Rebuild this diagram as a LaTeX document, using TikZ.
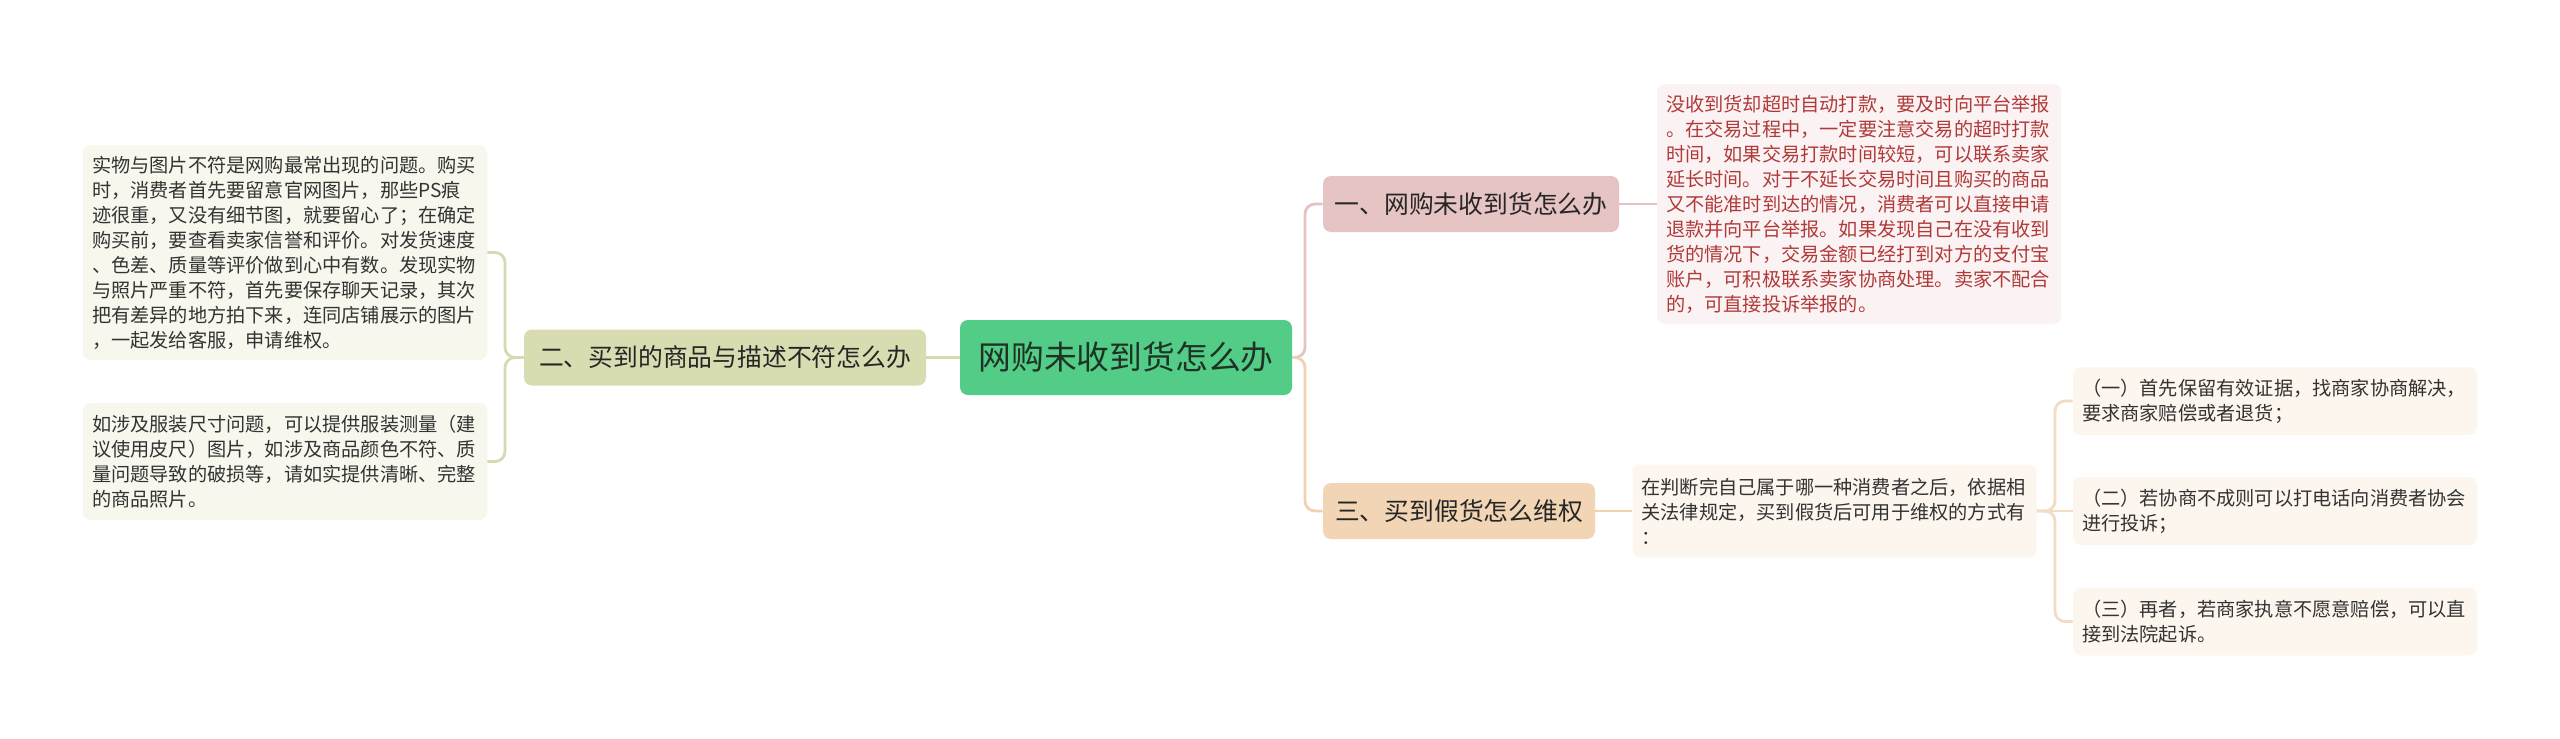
\documentclass[tikz,border=0pt]{standalone}
\usepackage{fontspec}
\newfontfamily\cjk{Noto Sans CJK SC}
\definecolor{cgreen}{HTML}{52CC86}
\definecolor{ctext}{HTML}{1E3326}
\definecolor{pinkf}{HTML}{E6C4C4}
\definecolor{olivef}{HTML}{D9DCB0}
\definecolor{orangef}{HTML}{F2D5B4}
\definecolor{lboxf}{HTML}{F7F7EE}
\definecolor{t1f}{HTML}{FBF3F3}
\definecolor{t1text}{HTML}{B03A3A}
\definecolor{rboxf}{HTML}{FDF6EE}
\definecolor{bodytext}{HTML}{333333}
\definecolor{pinkl}{HTML}{E6C2C2}
\definecolor{olivel}{HTML}{D7DAAE}
\definecolor{orangel}{HTML}{F0D2B0}
\definecolor{lorangel}{HTML}{F2DCC4}
\begin{document}
\begin{tikzpicture}[x=0.5pt,y=-0.5pt,
  base/.style={font=\cjk, rounded corners=4pt, inner sep=0pt, anchor=center},
  central/.style={base, fill=cgreen, text=ctext, font=\cjk\fontsize{16.4}{20}\selectfont, minimum width=166pt, minimum height=37.5pt},
  topic/.style={base, text=black!85, font=\cjk\fontsize{12.4}{15}\selectfont, minimum height=28pt},
  textbox/.style={base, font=\cjk\fontsize{9.6}{12.5}\selectfont, align=left, text width=193pt, inner xsep=4.5pt, text=bodytext},
  conn/.style={line width=1.4pt, rounded corners=5pt}
]
\useasboundingbox (0,0) rectangle (2560,739);
\fill[white] (0,0) rectangle (2560,739);

\node[central] (c) at (1126,357.5) {网购未收到货怎么办};
\node[topic, fill=pinkf, minimum width=148pt] (b1) at (1471,204) {一、网购未收到货怎么办};
\node[topic, fill=olivef, minimum width=201pt] (b2) at (725,357.5) {二、买到的商品与描述不符怎么办};
\node[topic, fill=orangef, minimum width=136pt] (b3) at (1459,511) {三、买到假货怎么维权};

\node[textbox, fill=lboxf, minimum height=107.5pt] (l1) at (285,252.5) {实物与图片不符是网购最常出现的问题。购买\\
时，消费者首先要留意官网图片，那些PS痕\\
迹很重，又没有细节图，就要留心了；在确定\\
购买前，要查看卖家信誉和评价。对发货速度\\
、色差、质量等评价做到心中有数。发现实物\\
与照片严重不符，首先要保存聊天记录，其次\\
把有差异的地方拍下来，连同店铺展示的图片\\
，一起发给客服，申请维权。};

\node[textbox, fill=lboxf, minimum height=58.5pt] (l2) at (285,461.5) {如涉及服装尺寸问题，可以提供服装测量（建\\
议使用皮尺）图片，如涉及商品颜色不符、质\\
量问题导致的破损等，请如实提供清晰、完整\\
的商品照片。};

\node[textbox, fill=t1f, text=t1text, minimum height=120pt] (t1) at (1859,204) {没收到货却超时自动打款，要及时向平台举报\\
。在交易过程中，一定要注意交易的超时打款\\
时间，如果交易打款时间较短，可以联系卖家\\
延长时间。对于不延长交易时间且购买的商品\\
又不能准时到达的情况，消费者可以直接申请\\
退款并向平台举报。如果发现自己在没有收到\\
货的情况下，交易金额已经打到对方的支付宝\\
账户，可积极联系卖家协商处理。卖家不配合\\
的，可直接投诉举报的。};

\node[textbox, fill=rboxf, minimum height=46.5pt] (t3) at (1834.5,511) {在判断完自己属于哪一种消费者之后，依据相\\
关法律规定，买到假货后可用于维权的方式有\\
：};

\node[textbox, fill=rboxf, minimum height=34pt] (r1) at (2275,401) {（一）首先保留有效证据，找商家协商解决，\\
要求商家赔偿或者退货；};
\node[textbox, fill=rboxf, minimum height=34pt] (r2) at (2275,511) {（二）若协商不成则可以打电话向消费者协会\\
进行投诉；};
\node[textbox, fill=rboxf, minimum height=34pt] (r3) at (2275,621.5) {（三）再者，若商家执意不愿意赔偿，可以直\\
接到法院起诉。};

\coordinate (jr) at (1305,357.5);
\coordinate (jl) at (505,357.5);
\coordinate (jr2) at (2055,511);

\draw[conn, olivel] (c.west) -- (b2.east);
\draw[conn, olivel] (b2.west) -- (jl) |- (l1.east);
\draw[conn, olivel] (b2.west) -- (jl) |- (l2.east);
\draw[conn, pinkl] (c.east) -- (jr) |- (b1.west);
\draw[conn, orangel] (c.east) -- (jr) |- (b3.west);
\draw[conn, pinkl] (b1.east) -- (t1.west);
\draw[conn, orangel] (b3.east) -- (t3.west);
\draw[conn, lorangel] (t3.east) -- (jr2) |- (r1.west);
\draw[conn, lorangel] (t3.east) -- (r2.west);
\draw[conn, lorangel] (t3.east) -- (jr2) |- (r3.west);
\end{tikzpicture}
\end{document}
